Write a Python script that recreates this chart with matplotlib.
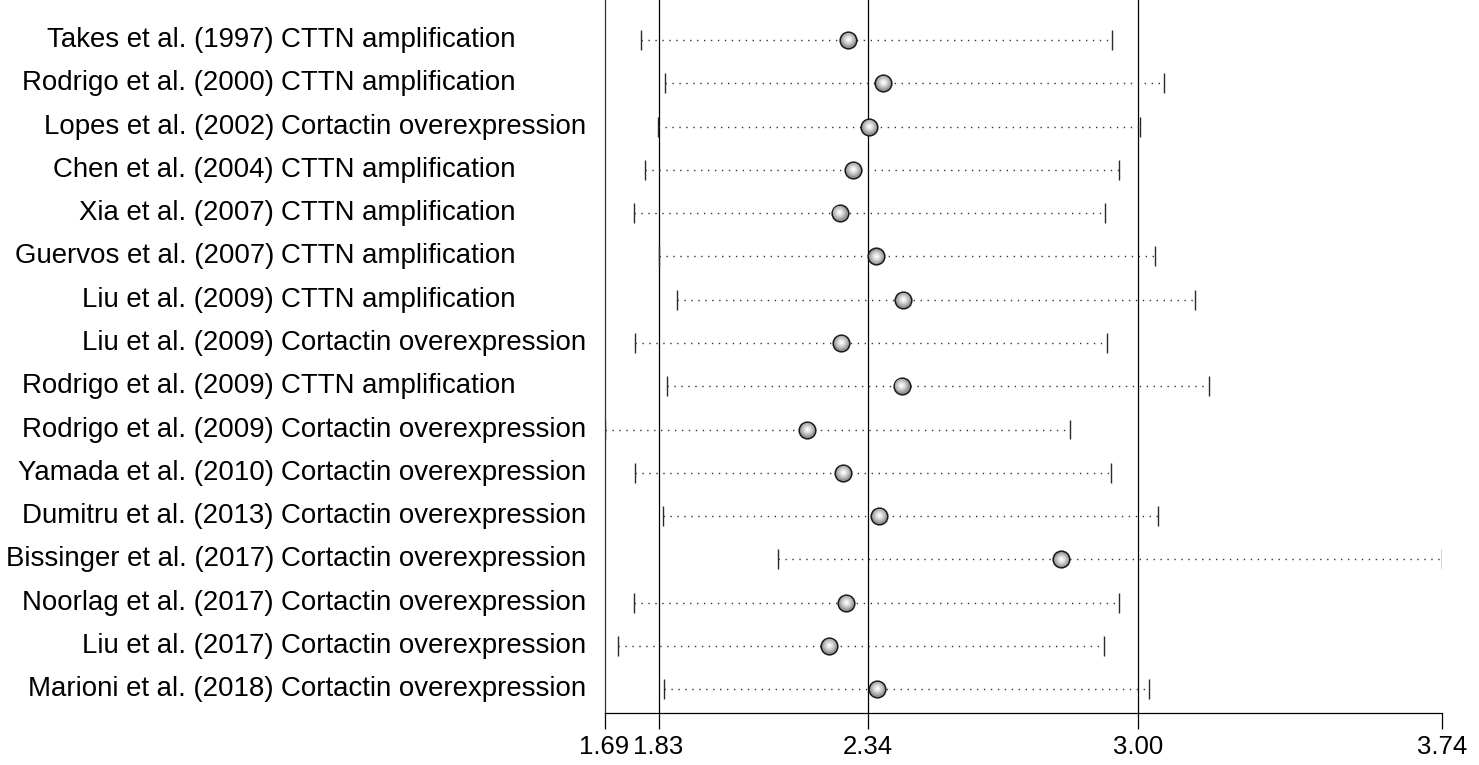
import matplotlib
matplotlib.use("Agg")
import matplotlib.pyplot as plt
import matplotlib.transforms as mtransforms

authors = [
    "Takes et al. (1997)", "Rodrigo et al. (2000)", "Lopes et al. (2002)",
    "Chen et al. (2004)", "Xia et al. (2007)", "Guervos et al. (2007)",
    "Liu et al. (2009)", "Liu et al. (2009)", "Rodrigo et al. (2009)",
    "Rodrigo et al. (2009)", "Yamada et al. (2010)", "Dumitru et al. (2013)",
    "Bissinger et al. (2017)", "Noorlag et al. (2017)", "Liu et al. (2017)",
    "Marioni et al. (2018)",
]
outcomes = [
    "CTTN amplification", "CTTN amplification", "Cortactin overexpression",
    "CTTN amplification", "CTTN amplification", "CTTN amplification",
    "CTTN amplification", "Cortactin overexpression", "CTTN amplification",
    "Cortactin overexpression", "Cortactin overexpression", "Cortactin overexpression",
    "Cortactin overexpression", "Cortactin overexpression", "Cortactin overexpression",
    "Cortactin overexpression",
]
estimate = [2.292, 2.378, 2.343, 2.305, 2.272, 2.361, 2.426, 2.275,
            2.423, 2.192, 2.280, 2.368, 2.812, 2.288, 2.246, 2.363]
lower = [1.788, 1.845, 1.829, 1.798, 1.771, 1.832, 1.876, 1.772,
         1.851, 1.698, 1.772, 1.840, 2.120, 1.771, 1.731, 1.844]
upper = [2.937, 3.063, 3.003, 2.954, 2.919, 3.041, 3.139, 2.923,
         3.172, 2.833, 2.934, 3.049, 3.740, 2.954, 2.917, 3.027]
pooled = [1.83, 2.34, 3.00]   # lower CI, estimate, upper CI of the combined result
tick_labels = ["1.69", "1.83", "2.34", "3.00", "3.74"]

W, H = 1479, 765
fig = plt.figure(figsize=(W / 100, H / 100), dpi=100)
ax = fig.add_axes([604.5 / W, 1 - 713 / H, (1441.7 - 604.5) / W, 713 / H])

rows = list(range(len(authors)))
xmin, xmax = min(lower), max(upper)

# reference lines for the pooled result
for v in pooled:
    ax.axvline(v, color="black", lw=0.9, zorder=1)

# confidence intervals: dotted line with end caps
for i in rows:
    ax.plot([lower[i], upper[i]], [i, i], color="#333333", lw=1.0,
            linestyle=(0, (1, 4)), zorder=2)
ax.vlines(lower, [i - 0.23 for i in rows], [i + 0.23 for i in rows],
          color="#2a2a2a", lw=1.0, zorder=2)
ax.vlines(upper, [i - 0.23 for i in rows], [i + 0.23 for i in rows],
          color="#2a2a2a", lw=1.0, zorder=2)

# shaded circles for the estimates
ax.plot(estimate, rows, "o", ms=12, mfc="#949494", mec="#1a1a1a", mew=1.1, zorder=3)
shift = mtransforms.ScaledTranslation(-0.3 / 72, 0.6 / 72, fig.dpi_scale_trans)
for ms, col in [(9.5, "#b0b0b0"), (7.5, "#c8c8c8"), (5.5, "#dddddd"),
                (3.5, "#eeeeee"), (2, "#fbfbfb")]:
    ax.plot(estimate, rows, "o", ms=ms, mfc=col, mec="none",
            transform=ax.transData + shift, zorder=4)

ax.set_xlim(xmin, xmax)
ax.set_ylim(len(rows) - 0.45, -0.924)
ax.set_xticks([xmin] + pooled + [xmax])
ax.set_xticklabels(tick_labels, fontsize=18.5, family="Liberation Sans")
ax.tick_params(axis="x", length=11.5, width=0.9, pad=4, direction="out")
ax.set_yticks([])
for s in ["top", "right"]:
    ax.spines[s].set_visible(False)
ax.spines["left"].set_color("#333333")
ax.spines["left"].set_linewidth(0.9)
ax.spines["bottom"].set_linewidth(0.9)

# study labels: author right-aligned, outcome left-aligned after it
trans = mtransforms.blended_transform_factory(fig.transFigure, ax.transData)
for i in rows:
    ax.text(274 / W, i, authors[i], ha="right", va="center", fontsize=19.9,
            family="Liberation Sans", transform=trans)
    ax.text(281 / W, i, outcomes[i], ha="left", va="center", fontsize=19.9,
            family="Liberation Sans", transform=trans)

fig.savefig("out.png", dpi=100)
